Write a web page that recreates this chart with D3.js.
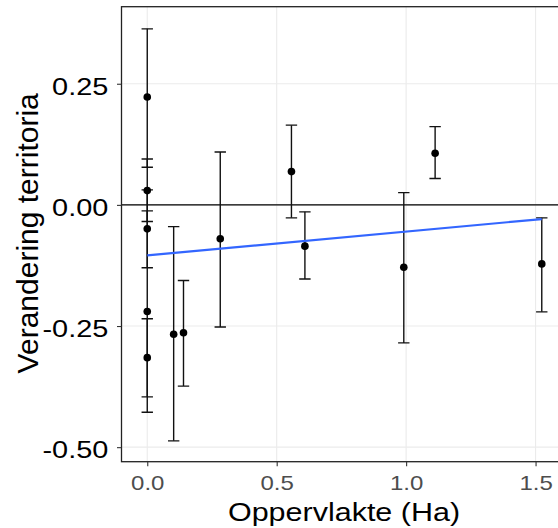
<!DOCTYPE html>
<html>
<head>
<meta charset="utf-8">
<script src="https://cdn.jsdelivr.net/npm/d3@7"></script>
<style>
  body { margin: 0; background: #fff; }
  text { font-family: "Liberation Sans", Arial, sans-serif; }
</style>
</head>
<body>
<script>
width = 558
height = 528

// oppervlakte (Ha) and verandering territoria with error bar limits
area   = [0, 0, 0, 0, 0, 0.102, 0.140, 0.282, 0.557, 0.609, 0.991, 1.112, 1.524]
change = [0.2225, 0.0295, -0.0495, -0.2199, -0.3153, -0.267, -0.264, -0.070, 0.0687, -0.0852, -0.1286, 0.1067, -0.1218]
lower  = [0.0777, -0.0344, -0.1298, -0.428, -0.3962, -0.487, -0.374, -0.252, -0.0268, -0.153, -0.2848, 0.0543, -0.2208]
upper  = [0.3633, 0.0948, 0.0309, -0.0124, -0.2349, -0.0448, -0.156, 0.109, 0.1645, -0.0144, 0.0254, 0.1616, -0.0268]

xTicks = [0, 0.5, 1, 1.5]
xTickLabels = ["0.0", "0.5", "1.0", "1.5"]
yTicks = [-0.5, -0.25, 0, 0.25]
yTickLabels = ["-0.50", "-0.25", "0.00", "0.25"]

data = area.map(function(a, i) {
    return {x: a, y: change[i], lo: lower[i], hi: upper[i]};
})

left = 121.5
top_ = 6.7
bottom = 461.7
right = 567.4
capW = 0.022

x = d3.scaleLinear().domain([-0.0995, 1.623]).range([left, right])
y = d3.scaleLinear().domain([-0.530, 0.409]).range([bottom, top_])

svg = d3.select("body")
    .append("svg")
    .attr("width", width)
    .attr("height", height)

svg.append("defs").append("clipPath").attr("id", "clip")
    .append("rect")
    .attr("x", left).attr("y", top_)
    .attr("width", right - left).attr("height", bottom - top_)

plot = svg.append("g").attr("clip-path", "url(#clip)")

// grid
plot.selectAll("line.gx")
    .data(xTicks)
    .enter()
    .append("line")
    .attr("x1", function(d) { return x(d); })
    .attr("x2", function(d) { return x(d); })
    .attr("y1", top_).attr("y2", bottom)
    .attr("stroke", "#EBEBEB")
    .attr("stroke-width", 1.1)
plot.selectAll("line.gy")
    .data(yTicks)
    .enter()
    .append("line")
    .attr("y1", function(d) { return y(d); })
    .attr("y2", function(d) { return y(d); })
    .attr("x1", left).attr("x2", right)
    .attr("stroke", "#EBEBEB")
    .attr("stroke-width", 1.1)

// zero line
plot.append("line")
    .attr("x1", left).attr("x2", right)
    .attr("y1", y(0)).attr("y2", y(0))
    .attr("stroke", "black")
    .attr("stroke-width", 1.1)

// error bars
bars = plot.selectAll("g.eb")
    .data(data)
    .enter()
    .append("g")
    .attr("stroke", "#111")
    .attr("stroke-width", 1.4)
bars.append("line")
    .attr("x1", function(d) { return x(d.x); })
    .attr("x2", function(d) { return x(d.x); })
    .attr("y1", function(d) { return y(d.lo); })
    .attr("y2", function(d) { return y(d.hi); })
bars.append("line")
    .attr("x1", function(d) { return x(d.x - capW); })
    .attr("x2", function(d) { return x(d.x + capW); })
    .attr("y1", function(d) { return y(d.lo); })
    .attr("y2", function(d) { return y(d.lo); })
bars.append("line")
    .attr("x1", function(d) { return x(d.x - capW); })
    .attr("x2", function(d) { return x(d.x + capW); })
    .attr("y1", function(d) { return y(d.hi); })
    .attr("y2", function(d) { return y(d.hi); })

// linear fit (least squares)
mx = d3.mean(area)
my = d3.mean(change)
sxy = d3.sum(area, function(a, i) { return (a - mx) * (change[i] - my); })
sxx = d3.sum(area, function(a) { return (a - mx) * (a - mx); })
slope = sxy / sxx
intercept = my - slope * mx
fit = d3.extent(area).map(function(a) { return {x: a, y: intercept + slope * a}; })

plot.append("path")
    .datum(fit)
    .attr("fill", "none")
    .attr("stroke", "#3366FF")
    .attr("stroke-width", 2.2)
    .attr("d", d3.line().x(function(d) { return x(d.x); }).y(function(d) { return y(d.y); }))

// points
plot.selectAll("circle")
    .data(data)
    .enter()
    .append("circle")
    .attr("cx", function(d) { return x(d.x); })
    .attr("cy", function(d) { return y(d.y); })
    .attr("r", 3.8)
    .attr("fill", "black")

// panel border
svg.append("rect")
    .attr("x", left).attr("y", top_)
    .attr("width", right - left).attr("height", bottom - top_)
    .attr("fill", "none")
    .attr("stroke", "#222")
    .attr("stroke-width", 1.3)

// axes
xAxis = svg.append("g")
    .attr("transform", "translate(0," + bottom + ")")
    .call(d3.axisBottom(x).tickValues(xTicks).tickSize(4.5)
        .tickFormat(function(d, i) { return xTickLabels[i]; }))
xAxis.select(".domain").remove()
xAxis.selectAll("line").attr("stroke", "#333").attr("stroke-width", 1.1)
xAxis.selectAll("text")
    .attr("y", 14)
    .attr("dy", "0.71em")
    .attr("transform", "scale(1.2,1)")
    .attr("font-size", 20)
    .attr("fill", "#4D4D4D")
    .style("font-family", "Liberation Sans, Arial, sans-serif")

yAxis = svg.append("g")
    .attr("transform", "translate(" + left + ",0)")
    .call(d3.axisLeft(y).tickValues(yTicks).tickSize(4.5)
        .tickFormat(function(d, i) { return yTickLabels[i]; }))
yAxis.select(".domain").remove()
yAxis.selectAll("line").attr("stroke", "#333").attr("stroke-width", 1.1)
yAxis.selectAll("text")
    .attr("x", -13.2 / 1.18)
    .attr("dy", 10.5)
    .attr("transform", "scale(1.18,1)")
    .attr("font-size", 24.5)
    .attr("fill", "black")
    .style("font-family", "Liberation Sans, Arial, sans-serif")

// titles
svg.append("text")
    .attr("transform", "translate(344,521) scale(1.22,1)")
    .attr("text-anchor", "middle")
    .attr("font-size", 25)
    .attr("fill", "black")
    .text("Oppervlakte (Ha)")

svg.append("text")
    .attr("transform", "translate(37.5,233.3) rotate(-90)")
    .attr("text-anchor", "middle")
    .attr("font-size", 30)
    .attr("fill", "black")
    .text("Verandering territoria")
</script>
</body>
</html>
